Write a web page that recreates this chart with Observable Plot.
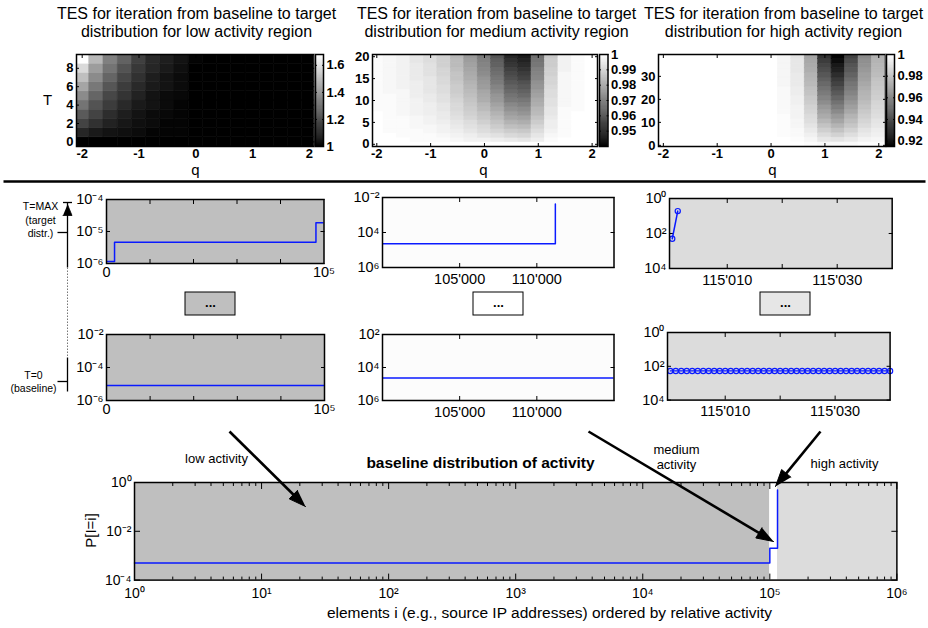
<!DOCTYPE html>
<html>
<head>
<meta charset="utf-8">
<script src="https://cdn.jsdelivr.net/npm/d3@7"></script>
<script src="https://cdn.jsdelivr.net/npm/@observablehq/plot@0.6"></script>
<style>
  html, body { margin: 0; padding: 0; background: #fff; }
  #fig { position: relative; width: 928px; height: 628px; overflow: hidden; background: #fff; }
</style>
</head>
<body>
<div id="fig"></div>
<script>
// ================= DATA =================
const qValues = [-2,-1.75,-1.5,-1.25,-1,-0.75,-0.5,-0.25,0,0.25,0.5,0.75,1,1.25,1.5,1.75,2];
const qTicks = [-2,-1,0,1,2];
const qTickLabels = ["-2","-1","0","1","2"];

// TES heatmap, low activity region: rows T = 0..9, columns = qValues
const lowT = [0,1,2,3,4,5,6,7,8,9];
const lowTES = [
  [1,1,1,1,1,1,1,1,1,1,1,1,1,1,1,1,1],
  [1.10,1.07,1.05,1.04,1.03,1.01,1.01,1.01,1,1,1,1,1,1,1,1,1],
  [1.18,1.13,1.09,1.06,1.04,1.03,1.01,1.01,1,1,1,1,1,1,1,1,1],
  [1.24,1.18,1.12,1.08,1.05,1.03,1.02,1.01,1,1,1,1,1,1,1,1,1],
  [1.31,1.22,1.16,1.11,1.07,1.05,1.03,1.01,1,1,1,1,1,1,1,1,1],
  [1.37,1.27,1.19,1.14,1.09,1.05,1.03,1.02,1,1,1,1,1,1,1,1,1],
  [1.44,1.32,1.23,1.16,1.11,1.07,1.05,1.03,1,1,1,1,1,1,1,1,1],
  [1.51,1.37,1.27,1.19,1.13,1.08,1.05,1.03,1,1,1,1,1,1,1,1,1],
  [1.58,1.42,1.31,1.22,1.15,1.10,1.07,1.04,1,1,1,1,1,1,1,1,1],
  [1.68,1.49,1.34,1.26,1.17,1.11,1.08,1.05,1.01,1,1,1,1,1,1,1,1]
];
const lowTTicks = [0,2,4,6,8];
const lowCbTicks = [1,1.2,1.4,1.6];
const lowCbLabels = ["1","1.2","1.4","1.6"];

// TES heatmap, medium activity region: one array per q (T = 0..20)
const medT = [0,1,2,3,4,5,6,7,8,9,10,11,12,13,14,15,16,17,18,19,20];
const medTES = [
  [1,1,1,1,1,1,1,1,.999,.999,.999,.999,.999,.999,.999,.999,.999,.999,.999,.999,.999],
  [1,1,1,.999,.999,.999,.999,.999,.999,.999,.999,.999,.998,.998,.998,.998,.998,.998,.998,.998,.998],
  [1,1,.999,.999,.999,.999,.999,.998,.998,.998,.998,.998,.998,.997,.997,.997,.997,.997,.997,.997,.997],
  [1,.999,.999,.999,.998,.998,.998,.997,.997,.997,.997,.996,.996,.996,.996,.995,.995,.995,.995,.994,.994],
  [1,.999,.999,.998,.998,.997,.997,.996,.996,.996,.995,.995,.994,.994,.994,.994,.993,.993,.993,.992,.992],
  [1,.999,.998,.997,.997,.996,.995,.995,.994,.994,.993,.993,.992,.992,.991,.991,.990,.990,.989,.989,.989],
  [1,.998,.997,.996,.995,.994,.993,.992,.991,.991,.990,.989,.988,.988,.987,.986,.986,.985,.984,.984,.983],
  [1,.997,.996,.994,.993,.992,.990,.989,.988,.987,.986,.985,.984,.983,.982,.981,.980,.979,.978,.977,.976],
  [1,.997,.994,.992,.991,.989,.987,.986,.984,.983,.981,.980,.979,.977,.976,.975,.973,.972,.971,.970,.969],
  [1,.996,.993,.990,.988,.986,.984,.982,.980,.978,.976,.975,.973,.971,.969,.968,.966,.965,.963,.962,.960],
  [1,.995,.991,.988,.985,.982,.979,.977,.974,.972,.969,.967,.965,.963,.961,.959,.957,.955,.953,.951,.949],
  [1,.994,.990,.987,.984,.981,.978,.975,.973,.970,.968,.965,.963,.961,.959,.956,.954,.952,.950,.948,.946],
  [1,.996,.994,.992,.990,.988,.986,.984,.983,.981,.980,.978,.977,.975,.974,.972,.971,.970,.968,.967,.966],
  [1,.999,.998,.997,.996,.996,.995,.994,.994,.993,.993,.992,.992,.991,.990,.990,.989,.989,.988,.988,.987],
  [1,1,.999,.999,.999,.999,.999,.999,.999,.998,.998,.998,.998,.998,.998,.998,.998,.997,.997,.997,.997],
  [1,1,1,1,1,1,1,1,.999,.999,.999,.999,.999,.999,.999,.999,.999,.999,.999,.999,.999],
  [1,1,1,1,1,1,1,1,1,1,1,1,1,1,1,1,1,1,1,1,1]
];
const medTTicks = [0,5,10,15,20];
const medCbTicks = [0.95,0.96,0.97,0.98,0.99,1];
const medCbLabels = ["0.95","0.96","0.97","0.98","0.99","1"];

// TES heatmap, high activity region: bands of two iterations (T = 0,2,...,38), one array per q
const highT = [0,2,4,6,8,10,12,14,16,18,20,22,24,26,28,30,32,34,36,38];
const highWhite = [1,1,1,1,1,1,1,1,1,1,1,1,1,1,1,1,1,1,1,1];
const highTES = [
  highWhite, highWhite, highWhite, highWhite, highWhite, highWhite, highWhite, highWhite, highWhite,
  [1,1,.999,.999,.999,.999,.999,.998,.998,.998,.998,.998,.998,.997,.997,.997,.997,.997,.997,.997],
  [1,.999,.998,.998,.997,.997,.996,.996,.996,.995,.995,.994,.994,.993,.993,.993,.992,.992,.992,.991],
  [.999,.997,.995,.993,.991,.989,.988,.986,.985,.983,.982,.980,.979,.977,.976,.975,.973,.972,.971,.970],
  [.998,.992,.988,.984,.980,.976,.972,.969,.966,.962,.959,.956,.953,.950,.947,.944,.941,.938,.935,.932],
  [.998,.991,.985,.980,.975,.970,.966,.961,.957,.953,.949,.945,.941,.937,.934,.930,.926,.923,.919,.916],
  [.998,.993,.989,.985,.981,.978,.975,.971,.968,.965,.962,.959,.956,.954,.951,.948,.945,.943,.940,.937],
  [.999,.996,.993,.991,.988,.986,.984,.982,.980,.978,.976,.975,.973,.971,.969,.968,.966,.964,.963,.961],
  [.999,.997,.995,.994,.992,.991,.989,.988,.987,.986,.984,.983,.982,.981,.980,.978,.977,.976,.975,.974]
];
const highTTicks = [0,10,20,30];
const highCbTicks = [0.92,0.94,0.96,0.98,1];
const highCbLabels = ["0.92","0.94","0.96","0.98","1"];

// Low activity panels (T=MAX target and T=0 baseline)
const lowTargetX = [0, 3700, 96300, 100000];
const lowTargetP = [1.15e-6, 4.6e-6, 1.87e-5, 1.87e-5];
const lowBaseX = [0, 100000];
const lowBaseP = [8e-6, 8e-6];
const lowXTicks = [0, 100000];
const lowXLabels = ["0", "10\u2075"];
const lowXMinor = [20000, 40000, 60000, 80000];
const lowTopYTicks = [1e-6, 1e-5, 1e-4];
const lowTopYLabels = ["10\u207B\u2076", "10\u207B\u2075", "10\u207B\u2074"];
const lowBotYTicks = [1e-6, 1e-4, 1e-2];
const lowBotYLabels = ["10\u207B\u2076", "10\u207B\u2074", "10\u207B\u00B2"];

// Medium activity panels
const medTargetX = [100000, 111200];
const medTargetP = [2.3e-5, 4.3e-3];
const medBaseX = [100000, 115000];
const medBaseP = [2.3e-5, 2.3e-5];
const medXTicks = [105000, 110000];
const medXLabels = ["105'000", "110'000"];
const medYTicks = [1e-6, 1e-4, 1e-2];
const medTopYLabels = ["10\u2076", "10\u2074", "10\u207B\u00B2"];
const medBotYLabels = ["10\u2076", "10\u2074", "10\u00B2"];

// High activity panels
const highTargetX = [115000, 115001];
const highTargetP = [5e-3, 0.19];
const highBaseX = [115000,115001,115002,115003,115004,115005,115006,115007,115008,115009,
  115010,115011,115012,115013,115014,115015,115016,115017,115018,115019,
  115020,115021,115022,115023,115024,115025,115026,115027,115028,115029,
  115030,115031,115032,115033,115034,115035,115036,115037,115038,115039,115040];
const highBaseP = [0.0053,0.0053,0.0053,0.0053,0.0053,0.0053,0.0053,0.0053,0.0053,0.0053,
  0.0053,0.0053,0.0053,0.0053,0.0053,0.0053,0.0053,0.0053,0.0053,0.0053,
  0.0053,0.0053,0.0053,0.0053,0.0053,0.0053,0.0053,0.0053,0.0053,0.0053,
  0.0053,0.0053,0.0053,0.0053,0.0053,0.0053,0.0053,0.0053,0.0053,0.0053,0.0053];
const highXTicks = [115010, 115020, 115030];
const highXLabels = ["115'010", "", "115'030"];
const highYTicks = [1e-4, 1e-2, 1];
const highYLabels = ["10\u2074", "10\u00B2", "10\u2070"];

// Baseline distribution of activity
const baseX = [1, 100000, 115000, 115040];
const baseP = [5e-4, 2e-3, 0.49, 0.49];
const regionNames = ["low", "medium", "high"];
const regionStart = [1, 100000, 115000];
const regionEnd = [100000, 115000, 1000000];
const baseXTicks = [1, 10, 100, 1000, 10000, 100000, 1000000];
const baseXLabels = ["10\u2070", "10\u00B9", "10\u00B2", "10\u00B3", "10\u2074", "10\u2075", "10\u2076"];
const baseYTicks = [1e-4, 1e-2, 1];
const baseYLabels = ["10\u207B\u2074", "10\u207B\u00B2", "10\u2070"];

// ================= STYLE / LAYOUT =================
const FONT = '"Liberation Sans", Arial, Helvetica, sans-serif';
const regionFill = {low: "#bfbfbf", medium: "#fcfcfc", high: "#dcdcdc"};
const baseRegionFill = {low: "#bfbfbf", medium: "#ffffff", high: "#dcdcdc"};
const BLUE = "#0a1aff";
const fig = document.getElementById("fig");

function place(frame, pad, opts) {
  const [x1, y1, x2, y2] = frame;
  const [pt, pr, pb, pl] = pad;
  const {style = {}, ...rest} = opts;
  const svg = Plot.plot({
    ...rest,
    width: x2 - x1 + pl + pr,
    height: y2 - y1 + pt + pb,
    marginTop: pt, marginRight: pr, marginBottom: pb, marginLeft: pl,
    style: {background: "transparent", fontFamily: FONT, overflow: "visible", maxWidth: "none", ...style}
  });
  svg.style.position = "absolute";
  svg.style.left = (x1 - pl) + "px";
  svg.style.top = (y1 - pt) + "px";
  fig.appendChild(svg);
  return svg;
}
const lab = (ticks, labels) => d => { const i = ticks.indexOf(d); return i < 0 ? "" : labels[i]; };
const blank = () => "";
function inTicks(xt, yt, size) {
  const m = [];
  if (xt) m.push(
    Plot.axisX(xt, {anchor: "bottom", tickSize: -size, tickFormat: blank, label: null}),
    Plot.axisX(xt, {anchor: "top", tickSize: -size, tickFormat: blank, label: null}));
  if (yt) m.push(
    Plot.axisY(yt, {anchor: "left", tickSize: -size, tickFormat: blank, label: null}),
    Plot.axisY(yt, {anchor: "right", tickSize: -size, tickFormat: blank, label: null}));
  return m;
}

// ---------- heatmaps ----------
function heatmap(frame, cells, span, xdom, ydom, cdom, yTicks) {
  place(frame, [8, 8, 30, 30], {
    x: {domain: xdom}, y: {domain: ydom},
    color: {type: "linear", domain: cdom, range: ["black", "white"], interpolate: "rgb", clamp: true},
    style: {fontSize: "13px", fontWeight: "bold"},
    marks: [
      Plot.rect(cells, {x1: d => d.q - 0.125, x2: d => d.q + 0.125, y1: d => d.T - 0.5, y2: d => d.T - 0.5 + span,
        fill: "v", stroke: "v", strokeWidth: 0.6, clip: true}),
      ...inTicks(qTicks, yTicks, 3),
      Plot.axisX(qTicks, {anchor: "bottom", tickSize: 0, tickPadding: 2, tickFormat: lab(qTicks, qTickLabels), label: null}),
      Plot.axisY(yTicks, {anchor: "left", tickSize: 0, tickPadding: 3, tickFormat: d => String(d), label: null}),
      Plot.frame({stroke: "black", strokeWidth: 1.5})
    ]
  });
}
function colorbar(frame, cdom, ticks, labels) {
  const n = 96;
  const val = (i) => cdom[0] + (cdom[1] - cdom[0]) * i / n;
  place(frame, [8, 40, 8, 4], {
    x: {domain: [0, 1], axis: null}, y: {domain: cdom},
    color: {type: "linear", domain: cdom, range: ["black", "white"], interpolate: "rgb", clamp: true},
    style: {fontSize: "13px", fontWeight: "bold"},
    marks: [
      Plot.rect(d3.range(n), {x1: () => 0, x2: () => 1, y1: d => val(d), y2: d => val(d + 1),
        fill: d => val(d + 0.5), stroke: d => val(d + 0.5), strokeWidth: 0.6}),
      Plot.axisY(ticks, {anchor: "left", tickSize: -2, tickFormat: blank, label: null}),
      Plot.axisY(ticks, {anchor: "right", tickSize: -2, tickFormat: blank, label: null}),
      Plot.axisY(ticks, {anchor: "right", tickSize: 0, tickPadding: 3, tickFormat: lab(ticks, labels), label: null}),
      Plot.frame({stroke: "black", strokeWidth: 1.5})
    ]
  });
}

const lowCells = lowT.flatMap((T, i) => qValues.map((q, j) => ({q, T, v: lowTES[i][j]})));
const medCells = qValues.flatMap((q, j) => medT.map((T, i) => ({q, T, v: medTES[j][i]})));
const highCells = qValues.flatMap((q, j) => highT.map((T, i) => ({q, T, v: highTES[j][i]})));

heatmap([76, 54, 313.5, 146], lowCells, 1, [-2.1, 2.08], [-0.5, 9.5], [1, 1.68], lowTTicks);
colorbar([315, 54, 323, 146], [1, 1.68], lowCbTicks, lowCbLabels);
heatmap([372, 54, 597, 146], medCells, 1, [-2.08, 2.1], [-0.5, 20.5], [0.94, 1], medTTicks);
colorbar([598.5, 54, 607, 146], [0.94, 1], medCbTicks, medCbLabels);
heatmap([658, 54, 885, 146], highCells, 2, [-2.09, 2.125], [-0.5, 39.5], [0.915, 1], highTTicks);
colorbar([886, 54, 894, 146], [0.915, 1], highCbTicks, highCbLabels);

// ---------- middle panels ----------
const pts = (xs, ps) => xs.map((x, i) => ({x, p: ps[i]}));
function panel(frame, c) {
  place(frame, [10, 30, 30, 60], {
    x: {type: "linear", domain: c.xDomain},
    y: {type: "log", domain: c.yDomain},
    style: {fontSize: "14.5px"},
    marks: [
      Plot.frame({fill: c.bg, stroke: "none"}),
      ...inTicks(c.xTickMarks, c.yTicks, 4),
      ...c.marks,
      Plot.axisX(c.xTicks, {anchor: "bottom", tickSize: 0, tickPadding: c.xPad, tickFormat: lab(c.xTicks, c.xLabels), label: null}),
      Plot.axisY(c.yTicks, {anchor: "left", tickSize: 0, tickPadding: 3, tickFormat: lab(c.yTicks, c.yLabels), label: null}),
      Plot.frame({stroke: "black", strokeWidth: 1.5})
    ]
  });
}
const stepLine = (data) => Plot.line(data, {x: "x", y: "p", curve: "step-after", stroke: BLUE, strokeWidth: 1.5, clip: true});

panel([106, 199, 323.5, 263], {
  bg: regionFill.low, xDomain: [0, 100000], yDomain: [1e-6, 1e-4],
  xTickMarks: lowXMinor, xTicks: lowXTicks, xLabels: lowXLabels, xPad: 3,
  yTicks: lowTopYTicks, yLabels: lowTopYLabels,
  marks: [stepLine(pts(lowTargetX, lowTargetP))]
});
panel([106, 334, 324, 400], {
  bg: regionFill.low, xDomain: [0, 100000], yDomain: [1e-6, 1e-2],
  xTickMarks: lowXMinor, xTicks: lowXTicks, xLabels: lowXLabels, xPad: 3,
  yTicks: lowBotYTicks, yLabels: lowBotYLabels,
  marks: [stepLine(pts(lowBaseX, lowBaseP))]
});
panel([382, 197, 613.5, 267], {
  bg: regionFill.medium, xDomain: [100000, 115000], yDomain: [1e-6, 1e-2],
  xTickMarks: medXTicks, xTicks: medXTicks, xLabels: medXLabels, xPad: 6,
  yTicks: medYTicks, yLabels: medTopYLabels,
  marks: [stepLine(pts(medTargetX, medTargetP))]
});
panel([382, 334, 613.5, 400], {
  bg: regionFill.medium, xDomain: [100000, 115000], yDomain: [1e-6, 1e-2],
  xTickMarks: medXTicks, xTicks: medXTicks, xLabels: medXLabels, xPad: 6,
  yTicks: medYTicks, yLabels: medBotYLabels,
  marks: [stepLine(pts(medBaseX, medBaseP))]
});
panel([669, 198, 891.7, 268], {
  bg: regionFill.high, xDomain: [114999.5, 115040], yDomain: [1e-4, 1],
  xTickMarks: highXTicks, xTicks: highXTicks, xLabels: highXLabels, xPad: 6,
  yTicks: highYTicks, yLabels: highYLabels,
  marks: [
    Plot.line(pts(highTargetX, highTargetP), {x: "x", y: "p", stroke: BLUE, strokeWidth: 1.5}),
    Plot.dot(pts(highTargetX, highTargetP), {x: "x", y: "p", r: 2.6, stroke: BLUE, strokeWidth: 1.2, fill: "none"})
  ]
});
panel([666.7, 331.7, 889.3, 399.3], {
  bg: regionFill.high, xDomain: [114999.5, 115040], yDomain: [1e-4, 1],
  xTickMarks: highXTicks, xTicks: highXTicks, xLabels: highXLabels, xPad: 6,
  yTicks: highYTicks, yLabels: highYLabels,
  marks: [
    Plot.line(pts(highBaseX, highBaseP), {x: "x", y: "p", stroke: BLUE, strokeWidth: 1.2}),
    Plot.dot(pts(highBaseX, highBaseP), {x: "x", y: "p", r: 2.6, stroke: BLUE, strokeWidth: 1.2, fill: "none"})
  ]
});

// ---------- baseline distribution ----------
const minorX = [];
for (let e = 0; e < 6; e++) for (let m = 2; m <= 9; m++) minorX.push(m * Math.pow(10, e));
const regions = regionNames.map((name, i) => ({name, x1: regionStart[i], x2: regionEnd[i]}));
place([134.3, 481.7, 896.7, 579.3], [10, 30, 40, 60], {
  x: {type: "log", domain: [1, 1e6]},
  y: {type: "log", domain: [1e-4, 1]},
  style: {fontSize: "14px"},
  marks: [
    Plot.rect(regions, {x1: "x1", x2: "x2", y1: () => 1e-4, y2: () => 1, fill: d => baseRegionFill[d.name]}),
    Plot.axisX(minorX, {anchor: "bottom", tickSize: -3, tickFormat: blank, label: null}),
    Plot.axisX(minorX, {anchor: "top", tickSize: -3, tickFormat: blank, label: null}),
    ...inTicks(baseXTicks, baseYTicks, 6),
    Plot.line(pts(baseX, baseP), {x: "x", y: "p", curve: "step-after", stroke: BLUE, strokeWidth: 1.5}),
    Plot.axisX(baseXTicks, {anchor: "bottom", tickSize: 0, tickPadding: 8, tickFormat: lab(baseXTicks, baseXLabels), label: null}),
    Plot.axisY(baseYTicks, {anchor: "left", tickSize: 0, tickPadding: 3, tickFormat: lab(baseYTicks, baseYLabels), label: null}),
    Plot.frame({stroke: "black", strokeWidth: 1.5})
  ]
});

// ---------- annotation overlay ----------
const textsNormal = [
  {x: 196, y: 13.5, t: "TES for iteration from baseline to target", s: 16},
  {x: 196, y: 31.5, t: "distribution for low activity region", s: 16},
  {x: 496, y: 13.5, t: "TES for iteration from baseline to target", s: 16},
  {x: 496, y: 31.5, t: "distribution for medium activity region", s: 16},
  {x: 783, y: 13.5, t: "TES for iteration from baseline to target", s: 16},
  {x: 783, y: 31.5, t: "distribution for high activity region", s: 16},
  {x: 195, y: 170, t: "q", s: 15},
  {x: 483, y: 170, t: "q", s: 15},
  {x: 772, y: 170, t: "q", s: 15},
  {x: 47, y: 100, t: "T", s: 15},
  {x: 40, y: 206, t: "T=MAX", s: 10.5},
  {x: 40, y: 220, t: "(target", s: 10.5},
  {x: 40, y: 233, t: "distr.)", s: 10.5},
  {x: 33, y: 375, t: "T=0", s: 10.5},
  {x: 33, y: 388, t: "(baseline)", s: 10.5},
  {x: 216, y: 458, t: "low activity", s: 13},
  {x: 676, y: 449, t: "medium", s: 13},
  {x: 676, y: 464, t: "activity", s: 13},
  {x: 844, y: 463, t: "high activity", s: 13},
  {x: 549, y: 613, t: "elements i (e.g., source IP addresses) ordered by relative activity", s: 15.5}
];
const textsBold = [
  {x: 480, y: 463, t: "baseline distribution of activity", s: 15.5},
  {x: 210, y: 302, t: "...", s: 13},
  {x: 498, y: 302, t: "...", s: 13},
  {x: 785, y: 302, t: "...", s: 13}
];
const dotBoxes = [
  {x1: 185, y1: 292, x2: 235, y2: 315, fill: regionFill.low},
  {x1: 473, y1: 292, x2: 523, y2: 315, fill: "#ffffff"},
  {x1: 760, y1: 292, x2: 810, y2: 315, fill: "#e6e6e6"}
];
const arrows = [
  {x1: 229, y1: 431, x2: 305, y2: 506},
  {x1: 588, y1: 431, x2: 773, y2: 541},
  {x1: 820, y1: 431, x2: 775, y2: 486}
];
function headOf(a, k, len, half) {
  const dx = a.x2 - a.x1, dy = a.y2 - a.y1, L = Math.hypot(dx, dy), ux = dx / L, uy = dy / L;
  const bx = a.x2 - ux * len, by = a.y2 - uy * len;
  return {shaft: {x1: a.x1, y1: a.y1, x2: bx + ux * 2, y2: by + uy * 2},
    head: [{id: k, x: a.x2, y: a.y2}, {id: k, x: bx - uy * half, y: by + ux * half}, {id: k, x: bx + uy * half, y: by - ux * half}]};
}
const arrowParts = arrows.map((a, k) => headOf(a, k, 17, 6));
const tArrow = headOf({x1: 67, y1: 240, x2: 67, y2: 204}, 9, 11, 4.5);
const solidSegs = [
  {x1: 67, y1: 202, x2: 67, y2: 267},
  {x1: 67, y1: 357, x2: 67, y2: 391},
  {x1: 62.5, y1: 202, x2: 71.5, y2: 202},
  {x1: 57, y1: 232, x2: 67, y2: 232},
  {x1: 57, y1: 381, x2: 67, y2: 381}
];
const dashedSegs = [{x1: 67, y1: 267, x2: 67, y2: 357}];
const dividerSegs = [{x1: 3, y1: 181, x2: 925, y2: 181}];

const overlay = Plot.plot({
  width: 928, height: 628, margin: 0,
  x: {domain: [0, 928], range: [0, 928], axis: null},
  y: {domain: [0, 628], range: [0, 628], axis: null},
  style: {background: "transparent", fontFamily: FONT, overflow: "visible", maxWidth: "none"},
  marks: [
    Plot.link(dividerSegs, {x1: "x1", y1: "y1", x2: "x2", y2: "y2", stroke: "black", strokeWidth: 2.5}),
    Plot.rect(dotBoxes, {x1: "x1", y1: "y1", x2: "x2", y2: "y2", fill: d => d.fill, stroke: "black", strokeWidth: 1}),
    Plot.link(solidSegs, {x1: "x1", y1: "y1", x2: "x2", y2: "y2", stroke: "black", strokeWidth: 1.3}),
    Plot.link(dashedSegs, {x1: "x1", y1: "y1", x2: "x2", y2: "y2", stroke: "#777", strokeWidth: 1, strokeDasharray: "1.5,1.5"}),
    Plot.line(tArrow.head, {x: "x", y: "y", z: "id", fill: "black", stroke: "black", strokeWidth: 0.8}),
    Plot.link(arrowParts.map(p => p.shaft), {x1: "x1", y1: "y1", x2: "x2", y2: "y2", stroke: "black", strokeWidth: 2.6, strokeLinecap: "butt"}),
    Plot.line(arrowParts.flatMap(p => p.head), {x: "x", y: "y", z: "id", fill: "black", stroke: "black", strokeWidth: 1}),
    Plot.text(textsNormal, {x: "x", y: "y", text: "t", fontSize: "s", fill: "black"}),
    Plot.text(textsBold, {x: "x", y: "y", text: "t", fontSize: "s", fontWeight: "bold", fill: "black"}),
    Plot.text(["P[I=i]"], {x: () => 91, y: () => 530, text: d => d, fontSize: 15, rotate: -90, fill: "black"})
  ]
});
overlay.style.position = "absolute";
overlay.style.left = "0px";
overlay.style.top = "0px";
fig.appendChild(overlay);
</script>
</body>
</html>
